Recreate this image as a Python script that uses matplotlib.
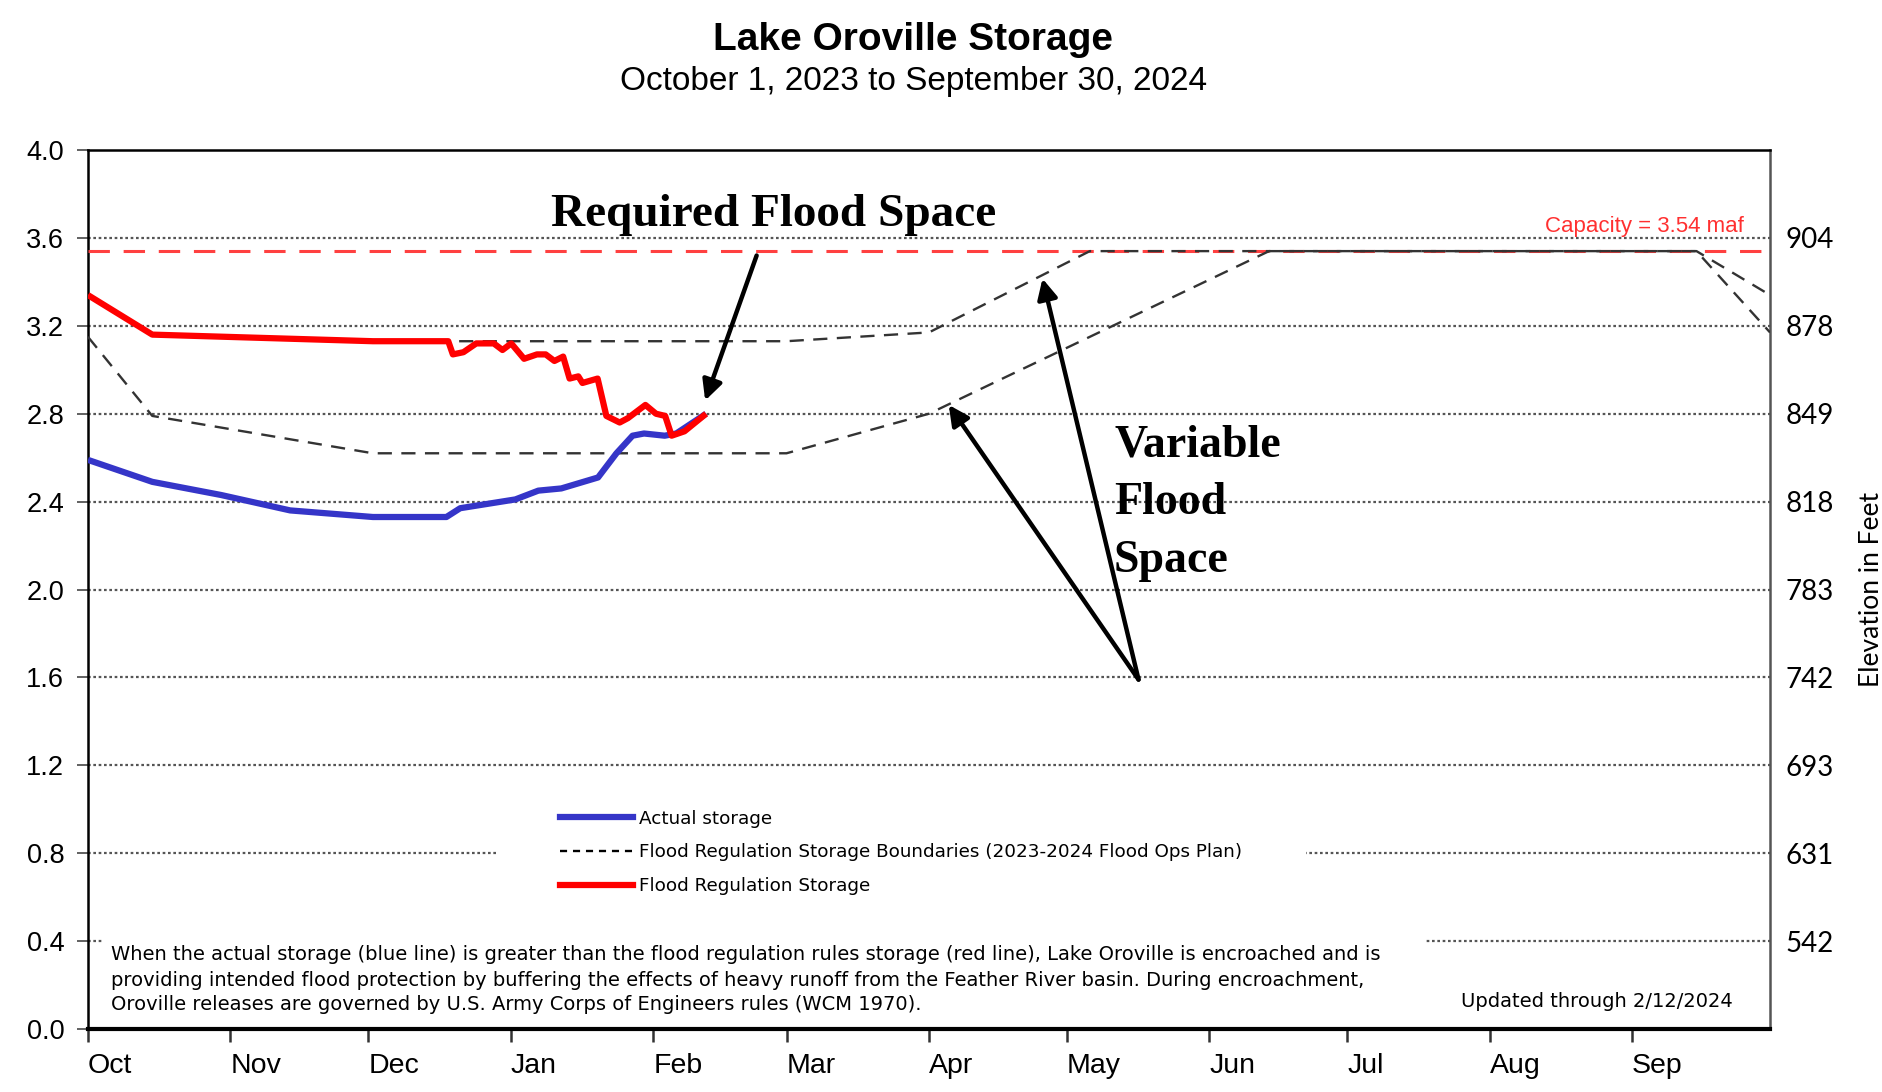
import matplotlib.pyplot as plt
from matplotlib.patches import Rectangle

plt.rcParams['font.family'] = ['Liberation Sans', 'DejaVu Sans']

# day of water year (0 = Oct 1 2023) and storage in million acre-feet
month_names = ['Oct', 'Nov', 'Dec', 'Jan', 'Feb', 'Mar', 'Apr', 'May', 'Jun', 'Jul', 'Aug', 'Sep']
month_days = [0, 31, 61, 92, 123, 152, 183, 213, 244, 274, 305, 336]
storage_ticks = [0.0, 0.4, 0.8, 1.2, 1.6, 2.0, 2.4, 2.8, 3.2, 3.6, 4.0]
elev_ticks = [0.4, 0.8, 1.2, 1.6, 2.0, 2.4, 2.8, 3.2, 3.6]
elev_labels = ['542', '631', '693', '742', '783', '818', '849', '878', '904']
capacity = 3.54

actual_days = [0, 14, 29, 44, 62, 78, 81, 93, 98, 103, 111, 115, 118.5, 121, 125.5, 128, 134.5]
actual_maf = [2.59, 2.49, 2.43, 2.36, 2.33, 2.33, 2.37, 2.41, 2.45, 2.46, 2.51, 2.62, 2.70, 2.71, 2.70, 2.71, 2.80]

floodreg_days = [0, 14, 62, 78.4, 79.4, 81.7, 84.5, 88.3, 90.2, 92.1, 94.9, 97.7, 99.6, 101.5, 103.4,
                 104.8, 106.7, 107.6, 110.9, 112.8, 115.7, 117.5, 121.3, 123.6, 125.6, 127, 129.8, 134.5]
floodreg_maf = [3.34, 3.16, 3.13, 3.13, 3.07, 3.08, 3.12, 3.12, 3.09, 3.12, 3.05, 3.07, 3.07, 3.04, 3.06,
                2.96, 2.97, 2.94, 2.96, 2.79, 2.76, 2.78, 2.84, 2.80, 2.79, 2.70, 2.72, 2.80]

upper_days = [14, 62, 152, 183, 218, 350, 366]
upper_maf = [3.16, 3.13, 3.13, 3.17, 3.54, 3.54, 3.34]
lower_days = [0, 14, 62, 152, 183, 257, 350, 366]
lower_maf = [3.15, 2.79, 2.62, 2.62, 2.80, 3.54, 3.54, 3.17]

fig = plt.figure(figsize=(18.83, 10.92), dpi=100)
ax = fig.add_axes([0.0467, 0.0577, 0.8933, 0.8049])

# grid
for v in storage_ticks[1:-1]:
    ax.axhline(v, color='#555555', lw=1.6, ls=(0, (1.2, 1.2)), zorder=1)

# white boxes behind legend and footnote
ax.add_patch(Rectangle((0.244, 0.155), 0.48, 0.125, transform=ax.transAxes,
                       facecolor='white', edgecolor='none', zorder=2))
ax.add_patch(Rectangle((0.0086, 0.005), 0.786, 0.108, transform=ax.transAxes,
                       facecolor='white', edgecolor='none', zorder=2))

ax.axhline(capacity, color='#ff4040', lw=2.2, ls=(0, (7, 4.5)), zorder=3)
ax.plot(upper_days, upper_maf, color='#333333', lw=1.7, ls=(0, (6, 4)), zorder=4)
ax.plot(lower_days, lower_maf, color='#333333', lw=1.7, ls=(0, (6, 4)), zorder=4)
ax.plot(actual_days, actual_maf, color='#3535c8', lw=4.5, zorder=5, solid_capstyle='butt')
ax.plot(floodreg_days, floodreg_maf, color='#ff0000', lw=4.5, zorder=6, solid_capstyle='butt')

ax.set_xlim(0, 366)
ax.set_ylim(0, 4.0)
ax.set_xticks(month_days)
ax.set_xticklabels(month_names, ha='left', fontsize=20.5)
ax.set_yticks(storage_ticks)
ax.set_yticklabels([f'{v:.1f}' for v in storage_ticks], fontsize=19.5)
ax.tick_params(axis='x', length=9, width=1.8, pad=8, color='#333333')
ax.tick_params(axis='y', length=8, width=1.3, pad=9, color='#555555')

for side in ['left', 'top']:
    ax.spines[side].set_linewidth(1.8)
ax.spines['bottom'].set_linewidth(3)
ax.spines['right'].set_linewidth(1.8)
ax.spines['right'].set_color('#555555')

ax2 = ax.twinx()
ax2.set_ylim(0, 4.0)
ax2.set_yticks(elev_ticks)
ax2.set_yticklabels(elev_labels, fontsize=20, family=['Lato', 'DejaVu Sans'])
ax2.tick_params(axis='y', length=0, pad=11)
ax2.set_ylabel('Elevation in Feet', fontsize=19, family=['Lato', 'DejaVu Sans'], labelpad=18)
for s in ax2.spines.values():
    s.set_visible(False)

# legend
h1, = ax.plot([], [], color='#3535c8', lw=4.5)
h2, = ax.plot([], [], color='black', lw=1.7, ls=(0, (3, 2.5)))
h3, = ax.plot([], [], color='#ff0000', lw=4.5)
leg = ax.legend([h1, h2, h3], ['Actual storage',
                               'Flood Regulation Storage Boundaries (2023-2024 Flood Ops Plan)',
                               'Flood Regulation Storage'],
                loc='center left', bbox_to_anchor=(0.2805, 0.2008), frameon=False,
                prop={'family': ['DejaVu Sans'], 'size': 13.2},
                handlelength=4.0, handletextpad=0.3, labelspacing=0.85,
                borderpad=0, borderaxespad=0)
leg.set_zorder(7)

# texts
ax.text(0.9843, 0.9126, 'Capacity = 3.54 maf', transform=ax.transAxes, color='#ff3030',
        fontsize=16, ha='right', va='center', zorder=7)
note = ['When the actual storage (blue line) is greater than the flood regulation rules storage (red line), Lake Oroville is encroached and is',
        'providing intended flood protection by buffering the effects of heavy runoff from the Feather River basin. During encroachment,',
        'Oroville releases are governed by U.S. Army Corps of Engineers rules (WCM 1970).']
for line, yf in zip(note, [0.0850, 0.0550, 0.0280]):
    ax.text(0.0136, yf, line, transform=ax.transAxes, fontsize=14.05, va='center', zorder=7,
            family=['DejaVu Sans'])
ax.text(0.978, 0.0310, 'Updated through 2/12/2024', transform=ax.transAxes, fontsize=14,
        ha='right', va='center', zorder=7, family=['DejaVu Sans'])

serif = dict(family=['Liberation Serif', 'DejaVu Serif'], fontsize=34, fontweight='bold', zorder=8)
ax.text(0.2755, 0.926, 'Required Flood Space', transform=ax.transAxes, va='center', **serif)
for word, yf in zip(['Variable', 'Flood', 'Space'], [0.664, 0.5985, 0.533]):
    ax.text(0.610, yf, word, transform=ax.transAxes, va='center', **dict(serif, fontsize=33))

arrow = dict(arrowstyle='-|>', color='black', lw=3.2, mutation_scale=30, shrinkA=0, shrinkB=0)
ax.annotate('', xy=(134.3, 2.86), xytext=(145.5, 3.52), arrowprops=arrow, zorder=8)
ax.annotate('', xy=(187.3, 2.84), xytext=(228.6, 1.59), arrowprops=arrow, zorder=8)
ax.annotate('', xy=(207.7, 3.415), xytext=(228.6, 1.59), arrowprops=arrow, zorder=8)

fig.text(0.485, 0.9637, 'Lake Oroville Storage', fontsize=28, fontweight='bold', ha='center', va='center')
fig.text(0.485, 0.9253, 'October 1, 2023 to September 30, 2024', fontsize=24, ha='center', va='center')

fig.savefig('out.png', dpi=100)
